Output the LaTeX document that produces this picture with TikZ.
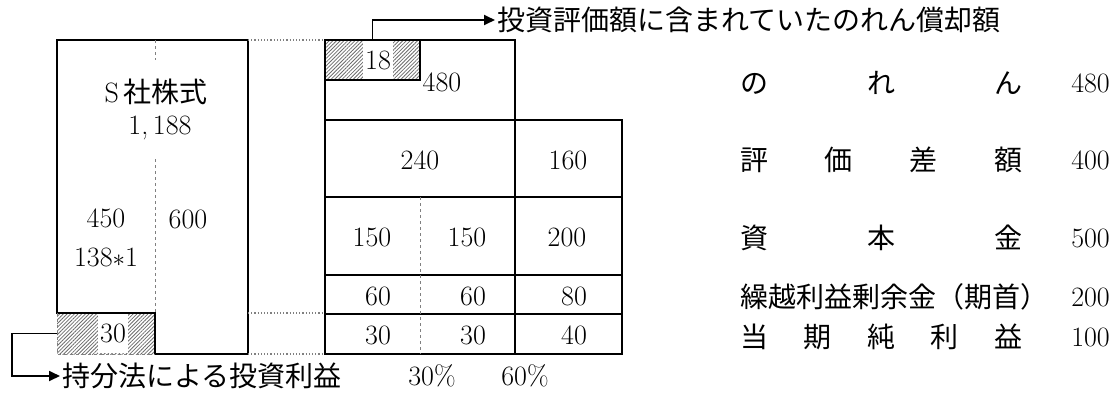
\documentclass[tikz,border=0pt]{standalone}
\usepackage{fontspec}
\newfontfamily\jp{Noto Sans CJK JP}
\usetikzlibrary{patterns.meta,arrows.meta}
\newcommand{\spread}[1]{\makebox[282pt][s]{\jp #1}}

\tikzset{
  heavy/.style={line width=2.8pt},
  light/.style={line width=2pt},
  divider/.style={gray, dashed, line width=1pt},
  guide/.style={gray, dotted, line width=1.2pt},
  hatchcell/.style={pattern={Lines[angle=45,distance=2.6pt,line width=0.8pt]}, pattern color=gray!85!black, inner sep=0pt},
  num/.style={inner sep=2pt},
  conn/.style={line width=1.8pt, -{Triangle[length=11pt,width=10pt]}},
}

\begin{document}
\begin{tikzpicture}[x=1pt,y=-1pt,font=\fontsize{28}{32}\selectfont]
\useasboundingbox (0,0) rectangle (1117,392);
    %hatched parts
    \node[hatchcell, minimum width=95pt, minimum height=40pt] (c18) at (372.5,60) {};
    \node[hatchcell, minimum width=98pt, minimum height=41pt] (c30) at (106,333.5) {};
    \node[num, fill=white, minimum height=38pt] (n18) at (378,60) {18};
    \node[num, fill=white, minimum height=39pt] (n30) at (113,333.5) {30};

    %S company shares
    \node[num] (sname) at (156,92) {S\,{\jp 社株式}};
    \node[num] (sprice) at (160,128) {1,\,188};
    \node[num] (n450) at (106,218) {450};
    \node[num] (n138) at (106,257) {138{$\ast$}1};
    \node[num] (n600) at (188,219) {600};
    \draw[heavy] (155,313) -- (57,313) -- (57,40) -- (248,40) -- (248,354) -- (155,354) -- cycle;
    \draw[divider] (155,40) -- (155,60) (155,159) -- (155,313);
    \draw[divider] (57,313) -- (57,354) -- (155,354);
    \draw[guide] (248,40) -- (325,40) (248,313) -- (325,313) (248,354) -- (325,354);

    %capital of S
    \node[num] (n480) at (442,82) {480};
    \foreach \v/\x/\y [count=\i] in {240/420/160, 160/568/160, 150/372/237, 150/467/237, 200/567/237,
        60/378/296, 60/473/296, 80/574/296, 30/378/335, 30/473/335, 40/574/335}
        \node[num] (t\i) at (\x,\y) {\v};
    \draw[heavy] (325,40) rectangle (515,354);
    \draw[heavy] (515,120) -- (622,120) -- (622,354) -- (515,354);
    \draw[heavy] (325,120) -- (515,120) (325,197) -- (622,197) (325,275) -- (622,275);
    \draw[light] (325,314) -- (622,314);
    \draw[light] (325,80) -- (420,80) -- (420,40);
    \draw[divider] (420,197) -- (420,354);

    \node[num] (p30) at (432,376) {30\%};
    \node[num] (p60) at (525,376) {60\%};

    %legend
    \node[num, anchor=west] (lab1) at (738,83) {\spread{の\hfill れ\hfill ん}};
    \node[num, anchor=west] (lab2) at (738,160) {\spread{評\hfill 価\hfill 差\hfill 額}};
    \node[num, anchor=west] (lab3) at (738,238) {\spread{資\hfill 本\hfill 金}};
    \node[num, anchor=west] (lab4) at (738,297) {\jp 繰越利益剰余金（期首）};
    \node[num, anchor=west] (lab5) at (738,337) {\spread{当\hfill 期\hfill 純\hfill 利\hfill 益}};
    \foreach \v/\y [count=\i] in {480/83, 400/160, 500/238, 200/297, 100/337}
        \node[num, anchor=east] (val\i) at (1112,\y) {\v};

    %arrows
    \node[num, anchor=west] (amort) at (495,20) {\jp 投資評価額に含まれていたのれん償却額};
    \node[num, anchor=west] (eqinc) at (60,376) {\jp 持分法による投資利益};
    \draw[conn] (c18.north) |- (amort.west);
    \draw[conn] (c30.west) -- ++(-45,0) |- (eqinc.west);
\end{tikzpicture}
\end{document}
